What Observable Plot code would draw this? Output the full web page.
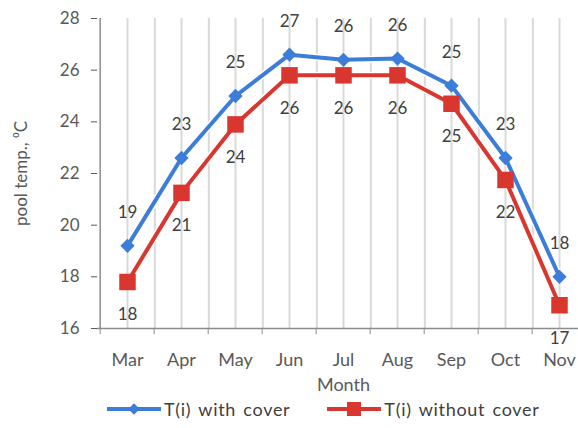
<!DOCTYPE html>
<html>
<head>
<meta charset="utf-8">
<script src="https://cdn.jsdelivr.net/npm/d3@7"></script>
<script src="https://cdn.jsdelivr.net/npm/@observablehq/plot@0.6"></script>
<style>
  html, body { margin: 0; padding: 0; background: #fff; overflow: hidden; }
  body { width: 578px; height: 428px; font-family: Lato, "Open Sans", sans-serif; }
  #chart svg { max-width: none !important; }
  #legend { display: flex; margin-left: 106px; margin-top: 3px; font-size: 18px; letter-spacing: 0.7px; word-spacing: 2px; color: #404040; align-items: center; }
  .item { display: flex; align-items: center; gap: 2px; margin-right: 36px; }
</style>
</head>
<body>
<div id="chart"></div>
<div id="legend"></div>
<script>
// Months on the category axis
const months = ["Mar", "Apr", "May", "Jun", "Jul", "Aug", "Sep", "Oct", "Nov"];
// Pool temperature (°C) with and without a cover
const withCover = [19.2, 22.6, 25.0, 26.6, 26.4, 26.45, 25.4, 22.6, 18.0];
const withoutCover = [17.8, 21.25, 23.9, 25.8, 25.8, 25.8, 24.7, 21.75, 16.9];
const seriesNames = ["T(i) with cover", "T(i) without cover"];
const seriesColors = ["#3b7dd8", "#d9362f"];
const yTicks = [16, 18, 20, 22, 24, 26, 28];

const rows = months.map((m, i) => ({month: m, a: withCover[i], b: withoutCover[i]}));

const W = 592, H = 395;
const mL = 97, mR = 3;
const bw = (W - mL - mR) / months.length;

const plot = Plot.plot({
  width: W,
  height: H,
  marginLeft: mL,
  marginRight: mR,
  marginTop: 18,
  marginBottom: 67,
  style: {fontFamily: "Lato, 'Open Sans', sans-serif", background: "#fff", overflow: "visible", maxWidth: "none"},
  x: {type: "band", domain: months, padding: 0},
  y: {domain: [16, 28]},
  marks: [
    // vertical gridlines at band centres and band edges
    Plot.ruleX(months, {stroke: "#d9d9d9", strokeWidth: 2}),
    Plot.ruleX(months, {stroke: "#d9d9d9", strokeWidth: 2, dx: bw / 2}),
    // axes
    Plot.axisY({ticks: yTicks, tickSize: 6, tickPadding: 12, fontSize: 17, color: "#595959",
      label: "pool temp., \u2070C", labelAnchor: "center", labelArrow: "none", labelOffset: 83}),
    Plot.ruleX([0], {x: () => months[0], dx: -bw / 2, stroke: "#8c8c8c", strokeWidth: 1.5}),
    Plot.ruleY([16], {stroke: "#8c8c8c", strokeWidth: 1.5}),
    Plot.axisX({tickSize: 6, dx: -bw / 2, text: null, label: null, stroke: "#8c8c8c"}),
    Plot.axisX({tickSize: 0, tickPadding: 25, fontSize: 18, color: "#595959",
      label: "Month", labelAnchor: "center", labelArrow: "none", labelOffset: 62}),
    // series lines with a thin white halo
    Plot.line(rows, {x: "month", y: "a", stroke: "#fff", strokeWidth: 7}),
    Plot.line(rows, {x: "month", y: "b", stroke: "#fff", strokeWidth: 7}),
    Plot.line(rows, {x: "month", y: "a", stroke: seriesColors[0], strokeWidth: 4}),
    Plot.line(rows, {x: "month", y: "b", stroke: seriesColors[1], strokeWidth: 4}),
    // markers
    Plot.dot(rows, {x: "month", y: "a", symbol: "square", r: 5.7, rotate: 45, fill: seriesColors[0], stroke: null}),
    Plot.dot(rows, {x: "month", y: "b", symbol: "square", r: 9.3, fill: seriesColors[1], stroke: null}),
    // rounded value labels
    Plot.text(rows, {x: "month", y: "a", text: d => Math.round(d.a), dy: -33, fontSize: 17, fill: "#404040"}),
    Plot.text(rows, {x: "month", y: "b", text: d => Math.round(d.b), dy: 33, fontSize: 17, fill: "#404040"})
  ]
});
document.getElementById("chart").appendChild(plot);

// legend below the chart
const legend = d3.select("#legend");
seriesNames.forEach((name, i) => {
  const item = legend.append("div").attr("class", "item");
  const svg = item.append("svg").attr("width", 56).attr("height", 16);
  svg.append("line").attr("x1", 1).attr("x2", 55).attr("y1", 8).attr("y2", 8)
    .attr("stroke", seriesColors[i]).attr("stroke-width", 4);
  if (i === 0) {
    svg.append("rect").attr("x", -4).attr("y", -4).attr("width", 8).attr("height", 8)
      .attr("fill", seriesColors[i]).attr("transform", "translate(28,8) rotate(45)");
  } else {
    svg.append("rect").attr("x", 21).attr("y", 1).attr("width", 14).attr("height", 14).attr("fill", seriesColors[i]);
  }
  item.append("span").text(name);
});
</script>
</body>
</html>
